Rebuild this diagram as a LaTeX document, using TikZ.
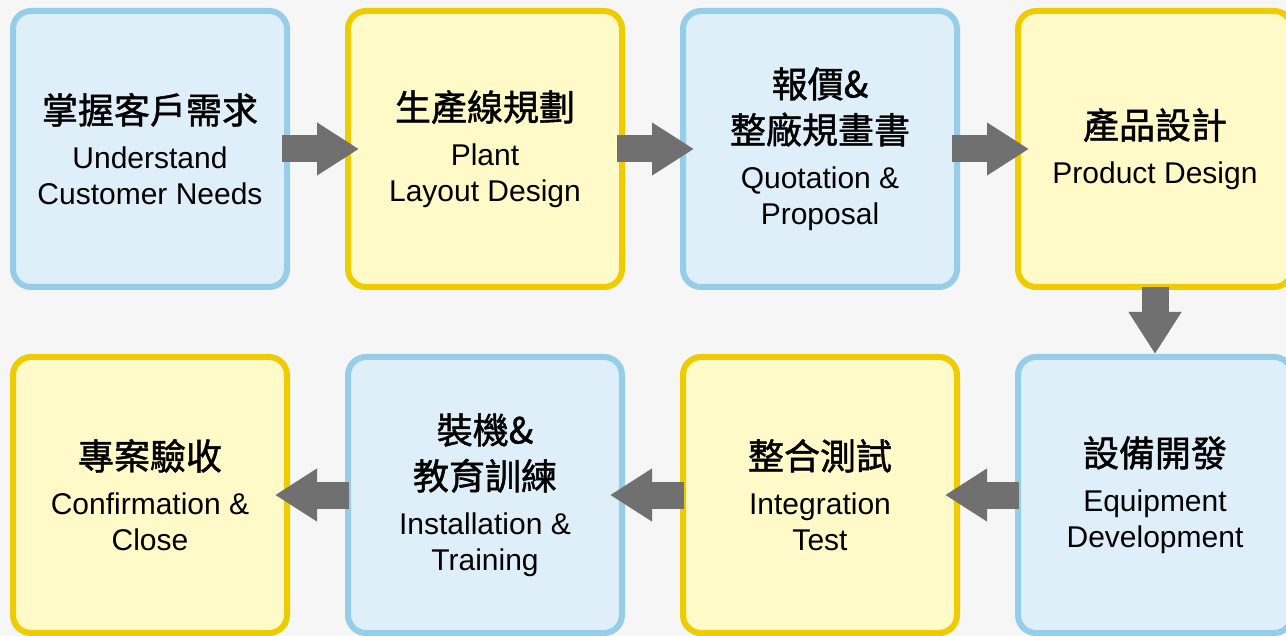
\documentclass[tikz,border=0pt]{standalone}
\usepackage{fontspec}
\setmainfont{Liberation Sans}
\newfontfamily\cjk[FakeBold=1.3]{Noto Sans CJK TC}
\usepackage{color}
\definecolor{lightblue}{RGB}{222,239,250}
\definecolor{edgeblue}{RGB}{150,205,232}
\definecolor{lightyellow}{RGB}{255,250,200}
\definecolor{edgeyellow}{RGB}{238,204,0}
\definecolor{arrowgray}{RGB}{112,112,112}
\definecolor{backgray}{RGB}{246,246,246}
\usepackage{tikz}
\usetikzlibrary{arrows.meta}
\newcommand{\widthstep}{137pt}
\newcommand{\heightstep}{138pt}
\newcommand{\zh}[1]{{\fontsize{18pt}{22pt}\selectfont\cjk #1}}
\tikzset{
    common/.style={draw, rectangle, rounded corners=9pt, line width=3pt, outer sep=0pt,
        minimum width=\widthstep, minimum height=\heightstep, align=center,
        font=\fontsize{15pt}{18pt}\selectfont},
    bluestep/.style={common, fill=lightblue, draw=edgeblue},
    yellowstep/.style={common, fill=lightyellow, draw=edgeyellow},
    flow/.style={draw=arrowgray, line width=13.5pt,
        -{Triangle[width=25pt, length=21pt, fill=arrowgray]}}
}

\begin{document}
\begin{tikzpicture}
                \fill[backgray] (0,0) rectangle (643pt,-318pt);
                \useasboundingbox (0,0) rectangle (643pt,-318pt);

                \path (75pt,-74.5pt)
                    node[bluestep] (a1) {\zh{掌握客戶需求}\\[4.5pt]Understand\\Customer Needs}
                    to ++(0:167.5pt) node[yellowstep] (a2) {\zh{生產線規劃}\\[4.5pt]Plant\\Layout Design}
                    to ++(0:167.5pt) node[bluestep] (a3) {\zh{報價\&}\\[5pt]\zh{整廠規畫書}\\[4.5pt]Quotation \&\\Proposal}
                    to ++(0:167.5pt) node[yellowstep] (a4) {\zh{產品設計}\\[4.5pt]Product Design};

                \path (75pt,-247.5pt)
                    node[yellowstep] (b1) {\zh{專案驗收}\\[4.5pt]Confirmation \&\\Close}
                    to ++(0:167.5pt) node[bluestep] (b2) {\zh{裝機\&}\\[5pt]\zh{教育訓練}\\[4.5pt]Installation \&\\Training}
                    to ++(0:167.5pt) node[yellowstep] (b3) {\zh{整合測試}\\[4.5pt]Integration\\Test}
                    to ++(0:167.5pt) node[bluestep] (b4) {\zh{設備開發}\\[4.5pt]Equipment\\Development};

                \draw[flow] ([xshift=-2.5pt]a1.east) -- ([xshift=5.5pt]a2.west);
                \draw[flow] ([xshift=-2.5pt]a2.east) -- ([xshift=5.5pt]a3.west);
                \draw[flow] ([xshift=-2.5pt]a3.east) -- ([xshift=5.5pt]a4.west);
                \draw[flow] (a4.south) -- ([yshift=1.5pt]b4.north);
                \draw[flow] ([xshift=0.5pt]b4.west) -- ([xshift=-6pt]b3.east);
                \draw[flow] ([xshift=0.5pt]b3.west) -- ([xshift=-6pt]b2.east);
                \draw[flow] ([xshift=0.5pt]b2.west) -- ([xshift=-6pt]b1.east);
            \end{tikzpicture}
\end{document}
